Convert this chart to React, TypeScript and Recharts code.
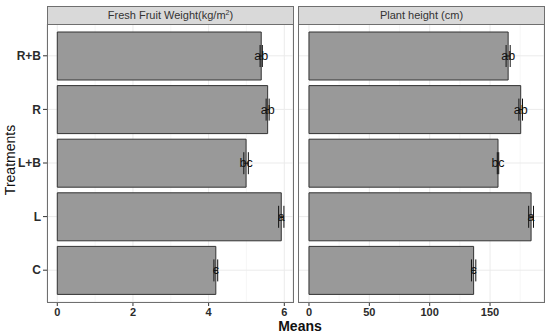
import React from "react";
import { BarChart, Bar, XAxis, YAxis, CartesianGrid, ErrorBar, LabelList } from "recharts";

const treatments = ["R+B", "R", "L+B", "L", "C"];
const fruitWeight = [5.39, 5.56, 4.99, 5.92, 4.19];
const fruitWeightSE = [0.03, 0.04, 0.06, 0.07, 0.05];
const fruitLetters = ["ab", "ab", "bc", "a", "c"];
const plantHeight = [165, 175.4, 156.6, 184, 136.4];
const plantHeightSE = [1.7, 1.5, 0.6, 2.0, 1.8];
const heightLetters = ["ab", "ab", "bc", "a", "c"];

const fruitTicks = [0, 2, 4, 6];
const fruitMinor = [1, 3, 5];
const heightTicks = [0, 50, 100, 150];
const heightMinor = [25, 75, 125, 175];

const fruitData = treatments.map((t, i) => ({ t, v: fruitWeight[i], e: fruitWeightSE[i], s: fruitLetters[i] }));
const heightData = treatments.map((t, i) => ({ t, v: plantHeight[i], e: plantHeightSE[i], s: heightLetters[i] }));

const FONT = "'Liberation Sans', Arial, sans-serif";
const BORDER = "#6f6f6f";

const LetterLabel = (props: any) => {
  const { x, y, width, height, value } = props;
  return (
    <text x={x + width} y={y + height / 2} textAnchor="middle" dominantBaseline="central"
      fontSize={12.5} fill="#111" fontFamily={FONT}>{value}</text>
  );
};

function Panel({ data, domain, ticks, minor, showY, left, width }: any) {
  return (
    <div style={{ position: "absolute", left, top: 0 }}>
      <BarChart width={width} height={336} data={data} layout="vertical"
        margin={{ top: 24, right: 0, bottom: 4, left: 0 }} barSize={48}>
        <CartesianGrid xAxisId="minor" horizontal={false} stroke="#F4F4F4" strokeWidth={0.7} />
        <CartesianGrid stroke="#EBEBEB" strokeWidth={1} />
        <XAxis xAxisId="minor" type="number" domain={domain} ticks={minor} allowDataOverflow hide height={0} />
        <XAxis type="number" domain={domain} ticks={ticks} allowDataOverflow
          axisLine={false} tickSize={4} tickMargin={2} height={30}
          tickLine={{ stroke: "#333" }}
          tick={{ fontSize: 11, fontWeight: "bold", fill: "#2b2b2b", fontFamily: FONT }} />
        <YAxis type="category" dataKey="t" hide={!showY} width={47} axisLine={false}
          tickSize={4} tickMargin={2} padding={{ top: 5, bottom: 5 }}
          tickLine={{ stroke: "#333" }}
          tick={{ fontSize: 12, fontWeight: "bold", fill: "#2b2b2b", fontFamily: FONT }} />
        <Bar dataKey="v" fill="#999999" stroke="#333" strokeWidth={1} isAnimationActive={false}>
          <ErrorBar dataKey="e" direction="x" width={11} stroke="#111" strokeWidth={1} />
          <LabelList dataKey="s" content={LetterLabel} />
        </Bar>
      </BarChart>
    </div>
  );
}

export default function App() {
  const strip: React.CSSProperties = {
    position: "absolute", top: 6, height: 17, background: "#D9D9D9",
    border: `1px solid ${BORDER}`, fontFamily: FONT, fontSize: 11, color: "#333",
    textAlign: "center", lineHeight: "17px", boxSizing: "content-box",
  };
  const border: React.CSSProperties = {
    position: "absolute", top: 24, height: 277, border: `1px solid ${BORDER}`, pointerEvents: "none",
  };
  return (
    <div style={{ position: "absolute", left: 0, top: 0, width: 550, height: 336, background: "#fff", fontFamily: FONT }}>
      <Panel data={fruitData} domain={[-0.272, 6.23]} ticks={fruitTicks} minor={fruitMinor} showY left={0} width={293} />
      <Panel data={heightData} domain={[-9.1, 194.7]} ticks={heightTicks} minor={heightMinor} showY={false} left={298} width={246} />
      <div style={{ ...border, left: 47, width: 245 }} />
      <div style={{ ...border, left: 298, width: 245 }} />
      <div style={{ ...strip, left: 47, width: 245 }}>Fresh Fruit Weight(kg/m<sup style={{ fontSize: 7, verticalAlign: "4px", lineHeight: 0 }}>2</sup>)</div>
      <div style={{ ...strip, left: 298, width: 245 }}>Plant height (cm)</div>
      <div style={{ position: "absolute", left: 0, width: 550, top: 318, textAlign: "center", paddingLeft: 50, boxSizing: "border-box", fontWeight: "bold", fontSize: 14, color: "#111" }}>Means</div>
      <div style={{ position: "absolute", left: 10, top: 160, transform: "translate(-50%, -50%) rotate(-90deg)", fontSize: 14, color: "#111", whiteSpace: "nowrap" }}>Treatments</div>
    </div>
  );
}
